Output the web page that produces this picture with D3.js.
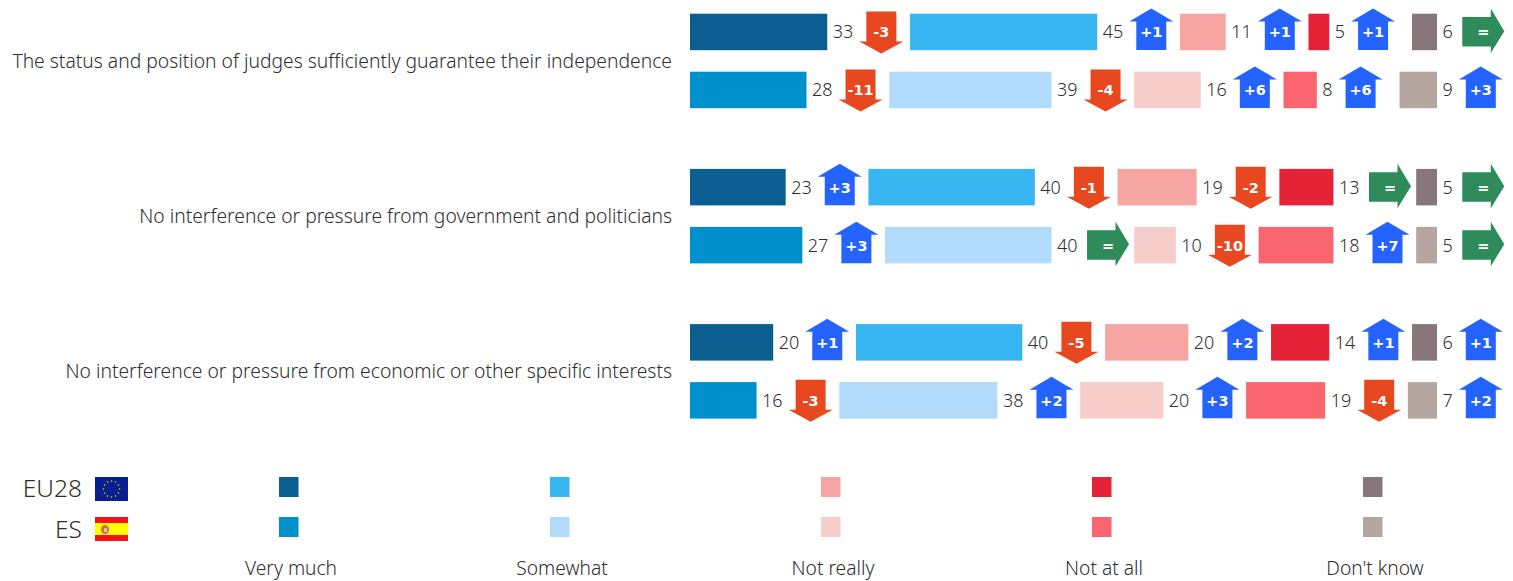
<!DOCTYPE html>
<html>
<head>
<meta charset="utf-8">
<script src="https://cdn.jsdelivr.net/npm/d3@7"></script>
<style>
  html, body { margin: 0; padding: 0; background: #fff; overflow: hidden; }
  text { font-family: "Noto Sans", sans-serif; font-weight: 300; fill: #2e2e2e; }
</style>
</head>
<body>
<div id="chart"></div>
<script>
var statements = [
  "The status and position of judges sufficiently guarantee their independence",
  "No interference or pressure from government and politicians",
  "No interference or pressure from economic or other specific interests"
];
var answers = ["Very much", "Somewhat", "Not really", "Not at all", "Don't know"];
var areas = ["EU28", "ES"];

// one row per statement, answers in order
var eu28Values = [[33, 45, 11, 5, 6], [23, 40, 19, 13, 5], [20, 40, 20, 14, 6]];
var esValues = [[28, 39, 16, 8, 9], [27, 40, 10, 18, 5], [16, 38, 20, 19, 7]];
var eu28Change = [[-3, 1, 1, 1, 0], [3, -1, -2, 0, 0], [1, -5, 2, 1, 1]];
var esChange = [[-11, -4, 6, 6, 3], [3, 0, -10, 7, 0], [-3, 2, 3, -4, 2]];

var eu28Colors = ["#0b5f90", "#37b6f2", "#f6a5a3", "#e62236", "#87767a"];
var esColors = ["#0090cc", "#b2dafa", "#f6cdc9", "#f96670", "#b5a69f"];

var width = 1513, height = 581;
var left = 690, gap = 82.75, barH = 36.5;

var svg = d3.select("#chart").append("svg")
    .attr("width", width)
    .attr("height", height)
    .style("display", "block");

var w = d3.scaleLinear().domain([0, 100]).range([0, 416]);
var yGroup = d3.scaleBand().domain(d3.range(statements.length)).range([13.7, 13.7 + 155.2 * 3]);

function arrowColor(d) {
  return d > 0 ? "#2463ff" : (d < 0 ? "#e8481f" : "#2d8c5a");
}

// arrow shape around the middle of the bar row
function arrowPath(d) {
  if (d > 0) return "M-15,18 V-10.5 H-22 L0,-23.5 L22,-10.5 H15 V18 Z";
  if (d < 0) return "M-15,-20.5 V9.5 H-22 L0,21.5 L22,9.5 H15 V-20.5 Z";
  return "M-18.5,-15 H10 V-23.5 L23.5,-0.8 L10,21 V14.5 H-18.5 Z";
}

statements.forEach(function(statement, s) {
  var g = svg.append("g").attr("transform", "translate(0," + yGroup(s) + ")");

  g.append("text")
      .attr("x", 672)
      .attr("y", 54)
      .attr("text-anchor", "end")
      .style("font-size", "19.3px")
      .text(statement);

  areas.forEach(function(area, a) {
    var values = a == 0 ? eu28Values[s] : esValues[s];
    var change = a == 0 ? eu28Change[s] : esChange[s];
    var colors = a == 0 ? eu28Colors : esColors;
    var row = g.append("g").attr("transform", "translate(0," + (a == 0 ? 0 : 58) + ")");
    var x = left;

    values.forEach(function(v, i) {
      var bw = w(v);
      row.append("rect")
          .attr("x", x)
          .attr("y", 0)
          .attr("width", bw)
          .attr("height", barH)
          .attr("fill", colors[i]);

      var label = row.append("text")
          .attr("x", x + bw + 5.5)
          .attr("y", barH / 2 + 6.5)
          .style("font-size", "18px")
          .text(v);

      // the arrow follows the value label
      var labelW = label.node().getComputedTextLength();
      var arrow = row.append("g")
          .attr("transform", "translate(" + (x + bw + 5.5 + labelW + 28) + "," + (barH / 2) + ")");
      arrow.append("path")
          .attr("d", arrowPath(change[i]))
          .attr("fill", arrowColor(change[i]));
      arrow.append("text")
          .attr("x", change[i] == 0 ? 2.5 : 0)
          .attr("y", 5.5)
          .attr("text-anchor", "middle")
          .style("font-family", "'DejaVu Sans', sans-serif")
          .style("font-weight", "700")
          .style("font-size", "14.5px")
          .style("fill", "#fff")
          .text(change[i] == 0 ? "=" : (change[i] > 0 ? "+" + change[i] : change[i]));

      x += bw + gap;
    });
  });
});

// legend
var xLegend = d3.scalePoint().domain(answers).range([279, 1363]);
var legend = svg.append("g");

answers.forEach(function(answer, i) {
  legend.append("rect").attr("x", xLegend(answer)).attr("y", 477).attr("width", 19.5).attr("height", 20).attr("fill", eu28Colors[i]);
  legend.append("rect").attr("x", xLegend(answer)).attr("y", 517).attr("width", 19.5).attr("height", 20).attr("fill", esColors[i]);
  legend.append("text")
      .attr("x", xLegend(answer) + 12)
      .attr("y", 575)
      .attr("text-anchor", "middle")
      .style("font-size", "19.2px")
      .text(answer);
});

legend.selectAll("text.area")
    .data(areas)
  .enter().append("text")
    .attr("class", "area")
    .attr("x", 82)
    .attr("y", function(d, i) { return 497 + i * 41; })
    .attr("text-anchor", "end")
    .style("font-size", "24.5px")
    .text(function(d) { return d; });

// EU flag
legend.append("rect").attr("x", 95).attr("y", 477).attr("width", 33).attr("height", 24).attr("fill", "#0a1f8f");
legend.selectAll("circle.star")
    .data(d3.range(12))
  .enter().append("circle")
    .attr("class", "star")
    .attr("cx", function(d) { return 111.5 + 8 * Math.cos(d * Math.PI / 6); })
    .attr("cy", function(d) { return 489 + 8 * Math.sin(d * Math.PI / 6); })
    .attr("r", 0.8)
    .attr("fill", "#e8d020");

// Spanish flag
legend.append("rect").attr("x", 95).attr("y", 517).attr("width", 33).attr("height", 24).attr("fill", "#f5101a");
legend.append("rect").attr("x", 95).attr("y", 523).attr("width", 33).attr("height", 12).attr("fill", "#ffff00");
legend.append("ellipse").attr("cx", 105).attr("cy", 529.5).attr("rx", 4).attr("ry", 4.5).attr("fill", "#d9694a");
legend.append("rect").attr("x", 104).attr("y", 528).attr("width", 3).attr("height", 4).attr("fill", "#e8b8b0");
</script>
</body>
</html>
